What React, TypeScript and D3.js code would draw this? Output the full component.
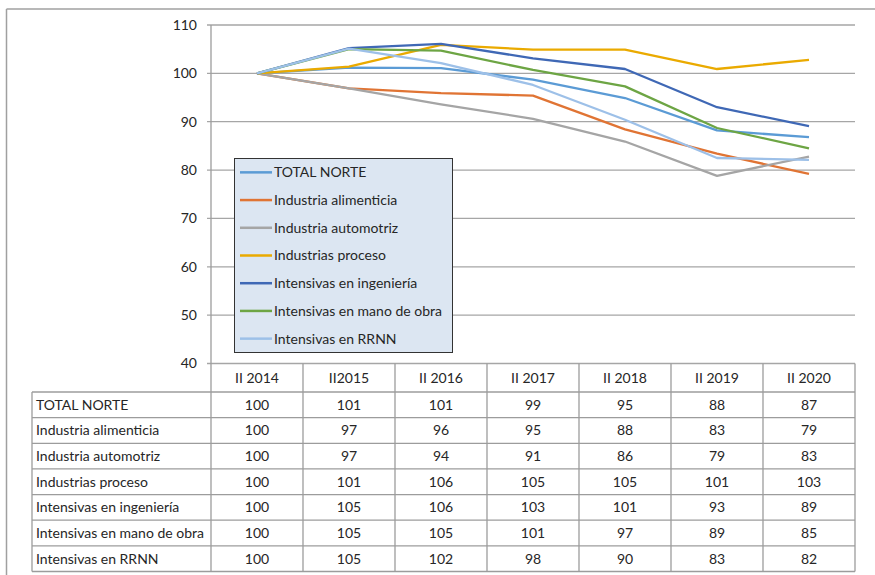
import React from "react";
import * as d3 from "d3";

const periods = ["II 2014", "II2015", "II 2016", "II 2017", "II 2018", "II 2019", "II 2020"];
const seriesNames = [
  "TOTAL NORTE",
  "Industria alimenticia",
  "Industria automotriz",
  "Industrias proceso",
  "Intensivas en ingeniería",
  "Intensivas en mano de obra",
  "Intensivas en RRNN",
];
const seriesColors = ["#5B9BD5", "#E07434", "#A5A5A5", "#EAAA00", "#3F68B5", "#6DA544", "#9DC0E8"];

const totalNorte = [100, 101.2, 101.1, 98.7, 94.9, 88.2, 86.8];
const alimenticia = [100, 96.9, 95.9, 95.4, 88.4, 83.4, 79.2];
const automotriz = [100, 96.9, 93.6, 90.6, 85.9, 78.8, 82.8];
const proceso = [100, 101.4, 105.9, 104.9, 104.9, 100.9, 102.8];
const ingenieria = [100, 105.2, 106.1, 103.1, 100.9, 93.0, 89.1];
const manoObra = [100, 105.0, 104.7, 100.7, 97.3, 88.7, 84.5];
const rrnn = [100, 105.1, 102.1, 97.6, 90.4, 82.5, 82.1];

const tableValues = [
  [100, 101, 101, 99, 95, 88, 87],
  [100, 97, 96, 95, 88, 83, 79],
  [100, 97, 94, 91, 86, 79, 83],
  [100, 101, 106, 105, 105, 101, 103],
  [100, 105, 106, 103, 101, 93, 89],
  [100, 105, 105, 101, 97, 89, 85],
  [100, 105, 102, 98, 90, 83, 82],
];

const yTicks = [40, 50, 60, 70, 80, 90, 100, 110];

const allSeries = [totalNorte, alimenticia, automotriz, proceso, ingenieria, manoObra, rrnn];

const FONT = "Lato, 'Open Sans', sans-serif";

export default function App() {
  const x = d3.scaleBand<string>().domain(periods).range([211, 855]).paddingInner(0).paddingOuter(0);
  const y = d3.scaleLinear().domain([40, 110]).range([363.5, 25]);
  const rows = d3.scaleBand<string>().domain(seriesNames).range([392, 571.5]);
  const bw = x.bandwidth();
  const line = d3
    .line<number>()
    .x((_, i) => (x(periods[i]) as number) + bw / 2)
    .y((v) => y(v));

  const gridColor = "#A6A6A6";
  const tableColor = "#9C9C9C";
  const textColor = "#262626";

  const legendX = 234.5;
  const legendY = 158.5;
  const legendW = 218;
  const legendH = 194;
  const legendRow = d3.scaleBand<string>().domain(seriesNames).range([legendY, legendY + legendH]);

  return (
    <svg
      width={875}
      height={575}
      style={{ position: "absolute", left: 0, top: 0, background: "#fff" }}
      fontFamily={FONT}
    >
      {/* outer frame */}
      <line x1={6.5} y1={9} x2={875} y2={9} stroke="#A0A0A0" strokeWidth={1.5} />
      <line x1={6.5} y1={9} x2={6.5} y2={575} stroke="#A0A0A0" strokeWidth={1.5} />

      {/* gridlines + y ticks */}
      {yTicks.map((t) => (
        <g key={t}>
          <line x1={207} x2={855} y1={y(t)} y2={y(t)} stroke={gridColor} strokeWidth={1.3} />
          <text x={197} y={y(t)} dy="0.35em" textAnchor="end" fontSize={14} fill={textColor}>
            {t}
          </text>
        </g>
      ))}
      {/* y axis */}
      <line x1={211} x2={211} y1={25} y2={571.5} stroke={tableColor} strokeWidth={1.3} />

      {/* series lines */}
      {allSeries.map((s, i) => (
        <path
          key={seriesNames[i]}
          d={line(s) as string}
          fill="none"
          stroke={seriesColors[i]}
          strokeWidth={2.3}
          strokeLinejoin="round"
        />
      ))}

      {/* legend */}
      <rect x={legendX} y={legendY} width={legendW} height={legendH} fill="#DCE6F2" stroke="#333" strokeWidth={1} />
      {seriesNames.map((n, i) => {
        const cy = (legendRow(n) as number) + legendRow.bandwidth() / 2;
        return (
          <g key={n}>
            <line x1={240} x2={272} y1={cy} y2={cy} stroke={seriesColors[i]} strokeWidth={2.5} />
            <text x={274} y={cy} dy="0.35em" fontSize={14} fill={textColor}>
              {n}
            </text>
          </g>
        );
      })}

      {/* table header */}
      {periods.map((p) => (
        <text
          key={p}
          x={(x(p) as number) + bw / 2}
          y={378}
          dy="0.35em"
          textAnchor="middle"
          fontSize={14}
          fill={textColor}
        >
          {p}
        </text>
      ))}
      {/* table horizontal lines */}
      <line x1={32} x2={855} y1={392} y2={392} stroke={tableColor} strokeWidth={1.3} />
      {seriesNames.map((n) => {
        const yy = (rows(n) as number) + rows.bandwidth();
        return <line key={n} x1={32} x2={855} y1={yy} y2={yy} stroke={tableColor} strokeWidth={1.3} />;
      })}
      {/* table vertical lines */}
      <line x1={32} x2={32} y1={392} y2={571.5} stroke={tableColor} strokeWidth={1.3} />
      {periods.map((p) => {
        const xx = (x(p) as number) + bw;
        return <line key={p} x1={xx} x2={xx} y1={363.5} y2={571.5} stroke={tableColor} strokeWidth={1.3} />;
      })}
      {/* table cells */}
      {seriesNames.map((n, i) => {
        const cy = (rows(n) as number) + rows.bandwidth() / 2;
        return (
          <g key={n}>
            <text x={36} y={cy} dy="0.35em" fontSize={14} fill={textColor}>
              {n}
            </text>
            {tableValues[i].map((v, j) => (
              <text
                key={j}
                x={(x(periods[j]) as number) + bw / 2}
                y={cy}
                dy="0.35em"
                textAnchor="middle"
                fontSize={14}
                fill={textColor}
              >
                {v}
              </text>
            ))}
          </g>
        );
      })}
    </svg>
  );
}
